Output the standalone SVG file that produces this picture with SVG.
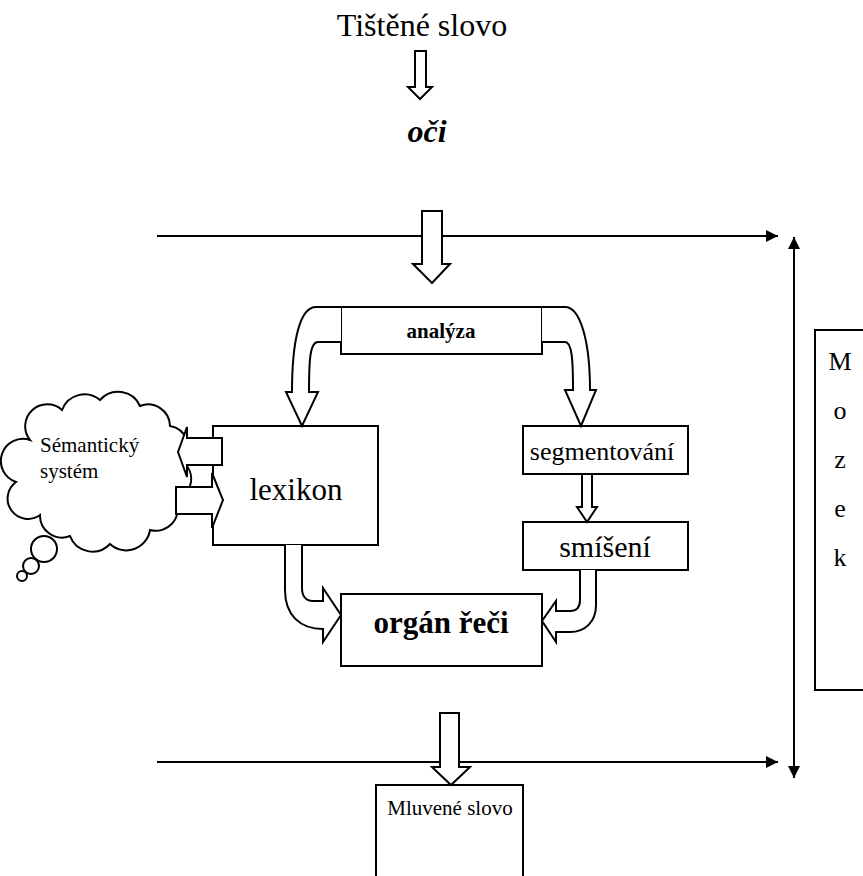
<svg xmlns="http://www.w3.org/2000/svg" width="863" height="876" viewBox="0 0 863 876">
<defs>
<marker id="ah" viewBox="0 0 12 12" refX="12" refY="6" markerWidth="12" markerHeight="12" markerUnits="userSpaceOnUse" orient="auto-start-reverse">
<path d="M0,0 L12,6 L0,12 Z" fill="#000"/>
</marker>
</defs>
<style>
.box{fill:#fff;stroke:#000;stroke-width:2}
.blk{fill:#fff;stroke:#000;stroke-width:2;stroke-linejoin:miter}
.ln{fill:none;stroke:#000;stroke-width:2}
.t{font-family:"Liberation Serif","Times New Roman",serif;fill:#000}
</style>
<rect width="863" height="876" fill="#fff"/>

<g id="title">
<text class="t" x="422" y="36" font-size="32" text-anchor="middle">Tištěné slovo</text>
</g>
<g id="oci">
<text class="t" x="427" y="142" font-size="32" font-weight="bold" font-style="italic" text-anchor="middle">oči</text>
</g>

<g id="mozek">
<rect class="box" x="815" y="330" width="60" height="360"/>
<text class="t" x="840" y="370" font-size="26" text-anchor="middle">M</text>
<text class="t" x="840" y="419" font-size="26" text-anchor="middle">o</text>
<text class="t" x="840" y="468" font-size="26" text-anchor="middle">z</text>
<text class="t" x="840" y="517" font-size="26" text-anchor="middle">e</text>
<text class="t" x="840" y="566" font-size="26" text-anchor="middle">k</text>
</g>

<g id="analyza">
<rect class="box" x="341" y="307" width="201" height="47"/>
<text class="t" x="441" y="338" font-size="21" font-weight="bold" text-anchor="middle">analýza</text>
</g>

<g id="lexikon">
<rect class="box" x="213" y="426" width="165" height="119"/>
<text class="t" x="296" y="500" font-size="31" text-anchor="middle">lexikon</text>
</g>

<g id="segmentovani">
<rect class="box" x="523" y="426" width="165" height="48"/>
<text class="t" x="602" y="460" font-size="26" text-anchor="middle">segmentování</text>
</g>

<g id="smiseni">
<rect class="box" x="523" y="522" width="165" height="48"/>
<text class="t" x="605" y="557" font-size="30" text-anchor="middle">smíšení</text>
</g>

<g id="organ">
<rect class="box" x="341" y="594" width="201" height="72"/>
<text class="t" x="441" y="633" font-size="31" font-weight="bold" text-anchor="middle">orgán řeči</text>
</g>

<g id="mluvene">
<rect class="box" x="376" y="785" width="147" height="100"/>
<text class="t" x="450" y="815" font-size="21" text-anchor="middle">Mluvené slovo</text>
</g>

<g id="semanticky">
<path class="box" d="M30,440 A22,22 0 0 1 62,410 A24,24 0 0 1 100,400 A24,24 0 0 1 140,406 A22,22 0 0 1 170,426 A22,22 0 0 1 183,462 A22,22 0 0 1 176,500 A22,22 0 0 1 150,530 A24,24 0 0 1 110,544 A24,24 0 0 1 70,536 A22,22 0 0 1 40,515 A20,20 0 0 1 16,482 A22,22 0 0 1 30,440 Z"/>
<circle class="box" cx="44" cy="549" r="13"/>
<circle class="box" cx="31" cy="566" r="8"/>
<circle class="box" cx="22" cy="576" r="5"/>
<text class="t" x="40" y="452" font-size="21">Sémantický</text>
<text class="t" x="40" y="478" font-size="21">systém</text>
</g>

<g id="connectors">
<line class="ln" x1="157" y1="236" x2="778" y2="236" marker-end="url(#ah)"/>
<line class="ln" x1="157" y1="762" x2="778" y2="762" marker-end="url(#ah)"/>
<line class="ln" x1="794" y1="237" x2="794" y2="778" marker-start="url(#ah)" marker-end="url(#ah)"/>
<path class="blk" d="M415,51 L426,51 L426,87 L432,87 L420,99 L408,87 L415,87 Z"/>
<path class="blk" d="M422,211 L442,211 L442,264 L450,264 L432,283 L413,264 L422,264 Z"/>
<path class="blk" d="M341,307 L316,307 C300,307 292,340 292,392 L286,392 L302,426 L318,392 L309,392 C309,360 310,342 318,342 L341,342"/>
<path class="blk" d="M542,307 L565,307 C580,307 590,340 590,390 L596,390 L581,426 L565,390 L573,390 C573,360 572,342 565,342 L542,342"/>
<path class="blk" d="M582,474 L592,474 L592,507 L597,507 L587,522 L577,507 L582,507 Z"/>
<path class="blk" d="M285,545 L285,590 C285,615 300,629 323,629 L323,642 L341,615 L323,588 L323,601 L313,601 C305,601 302,595 302,588 L302,545"/>
<path class="blk" d="M596,570 L596,605 C596,622 585,632 570,632 L556,632 L556,642 L542,621 L556,601 L556,611 L570,611 C577,611 580,607 580,600 L580,570"/>
<path class="blk" d="M222,438 L187,438 L187,427 L178,452 L187,477 L187,465 L222,465 Z"/>
<path class="blk" d="M176,487 L212,487 L212,473 L223,500 L212,528 L212,514 L176,514 Z"/>
<path class="blk" d="M440,713 L459,713 L459,767 L470,767 L451,785 L432,767 L440,767 Z"/>
</g>
</svg>
